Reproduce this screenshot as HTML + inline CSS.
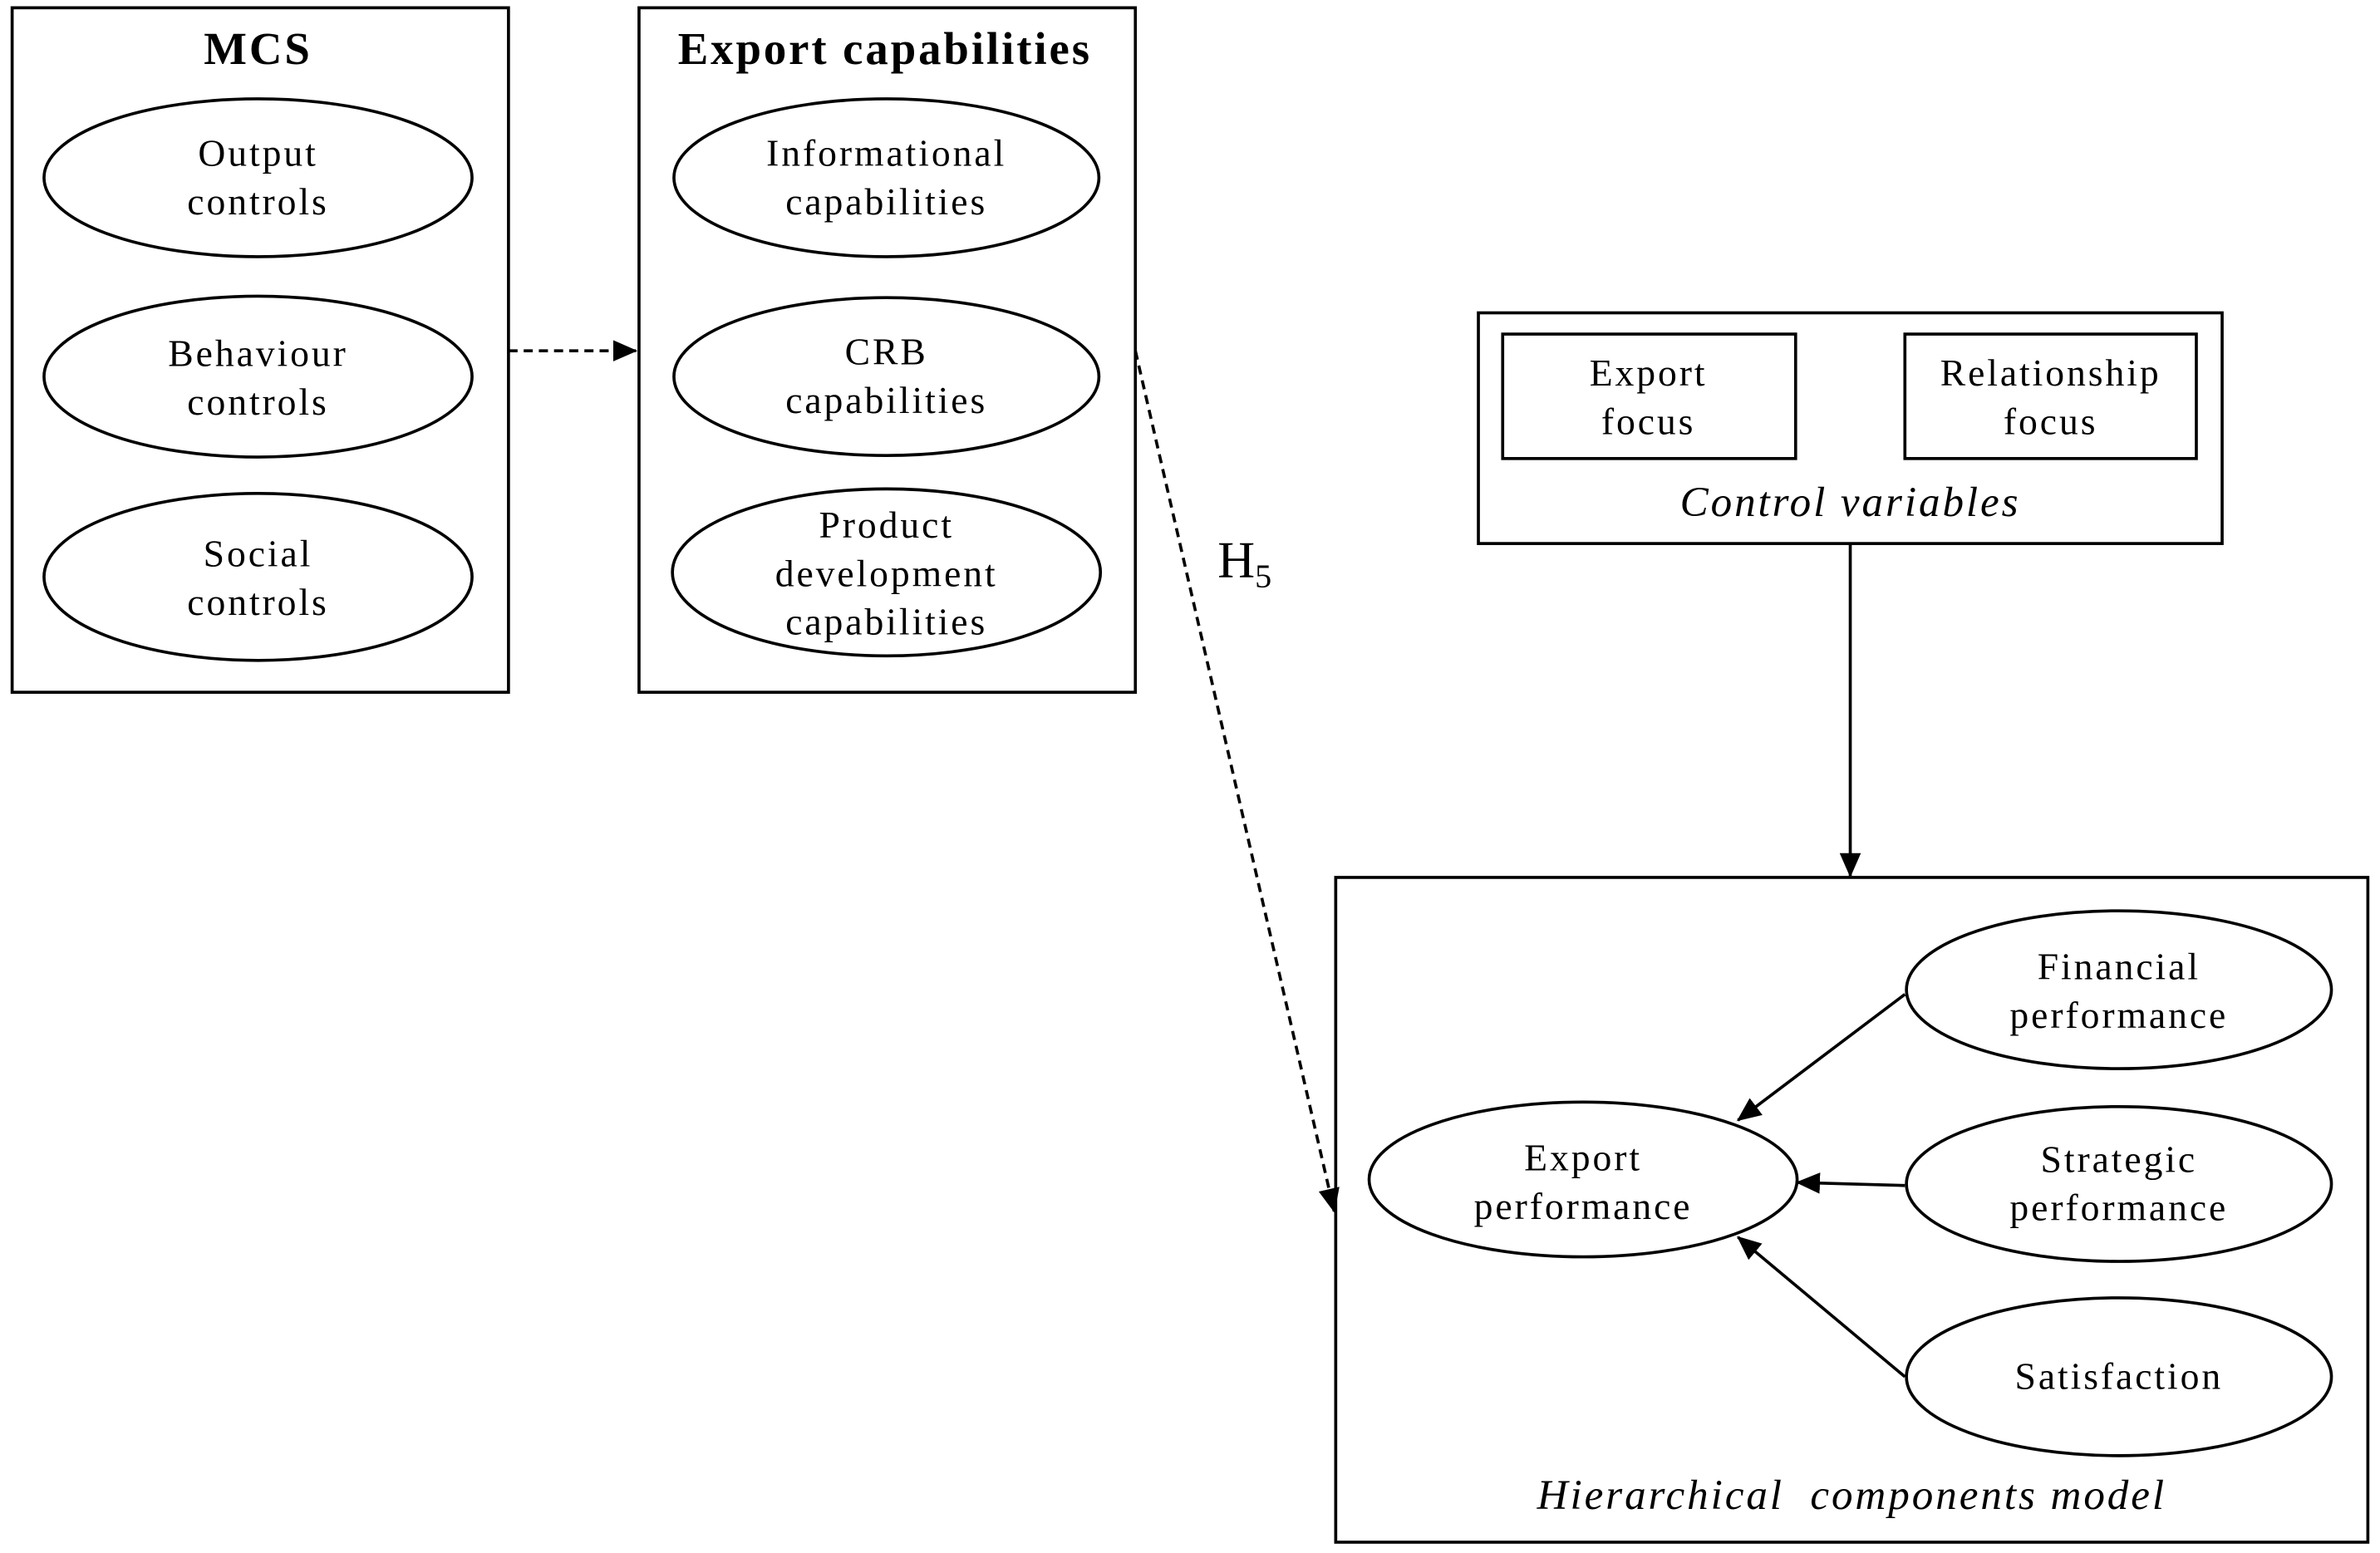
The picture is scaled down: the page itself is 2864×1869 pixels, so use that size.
<!DOCTYPE html>
<html><head><meta charset="utf-8"><style>html,body{margin:0;padding:0;background:#fff}svg{display:block}text{font-family:"Liberation Serif",serif;fill:#000}</style></head>
<body>
<svg width="2864" height="1869" viewBox="0 0 1568 1023" xmlns="http://www.w3.org/2000/svg">
<defs><marker id="b" markerWidth="16" markerHeight="14" refX="15" refY="7" orient="auto" markerUnits="userSpaceOnUse"><path d="M0,0 L16,7 L0,14 Z" fill="#000"/></marker></defs>
<g fill="none" stroke="#000" stroke-width="2">
<rect x="8" y="5" width="327" height="451"/>
<rect x="421" y="5" width="327" height="451"/>
<ellipse cx="170" cy="117" rx="141" ry="52"/>
<ellipse cx="170" cy="248" rx="141" ry="53"/>
<ellipse cx="170" cy="380" rx="141" ry="55"/>
<ellipse cx="584" cy="117" rx="140" ry="52"/>
<ellipse cx="584" cy="248" rx="140" ry="52"/>
<ellipse cx="584" cy="377" rx="141" ry="55"/>
<line x1="335" y1="231" x2="419" y2="231" stroke-dasharray="6,4" marker-end="url(#b)"/>
<line x1="748" y1="231" x2="879" y2="798" stroke-dasharray="6,4" marker-end="url(#b)"/>
<rect x="974" y="206" width="490" height="152"/>
<rect x="990" y="220" width="193" height="82"/>
<rect x="1255" y="220" width="192" height="82"/>
<line x1="1219" y1="358" x2="1219" y2="577" marker-end="url(#b)"/>
<rect x="880" y="578" width="680" height="438"/>
<ellipse cx="1043" cy="777" rx="141" ry="51"/>
<ellipse cx="1396" cy="652" rx="140" ry="52"/>
<ellipse cx="1396" cy="780" rx="140" ry="51"/>
<ellipse cx="1396" cy="907" rx="140" ry="52"/>
<line x1="1255" y1="655" x2="1145" y2="738" marker-end="url(#b)"/>
<line x1="1255" y1="781" x2="1184" y2="779" marker-end="url(#b)"/>
<line x1="1255" y1="907" x2="1145" y2="815" marker-end="url(#b)"/>
</g>
<g font-size="25" text-anchor="middle" letter-spacing="1.6">
<text x="170" y="42" font-size="30" font-weight="bold">MCS</text>
<text x="583" y="42" font-size="30" font-weight="bold">Export capabilities</text>
<text x="170" y="109">Output</text><text x="170" y="141">controls</text>
<text x="170" y="241">Behaviour</text><text x="170" y="273">controls</text>
<text x="170" y="373">Social</text><text x="170" y="405">controls</text>
<text x="584" y="109">Informational</text><text x="584" y="141">capabilities</text>
<text x="584" y="240">CRB</text><text x="584" y="272">capabilities</text>
<text x="584" y="354">Product</text><text x="584" y="386">development</text><text x="584" y="418">capabilities</text>
<text x="820" y="380" font-size="34" letter-spacing="0">H<tspan font-size="22" dy="7">5</tspan></text>
<text x="1086" y="254">Export</text><text x="1086" y="286">focus</text>
<text x="1351" y="254">Relationship</text><text x="1351" y="286">focus</text>
<text x="1219" y="340" font-size="28" font-style="italic">Control variables</text>
<text x="1043" y="771">Export</text><text x="1043" y="803">performance</text>
<text x="1396" y="645">Financial</text><text x="1396" y="677">performance</text>
<text x="1396" y="772">Strategic</text><text x="1396" y="804">performance</text>
<text x="1396" y="915">Satisfaction</text>
<text x="1220" y="994" font-size="28" font-style="italic" xml:space="preserve">Hierarchical  components model</text>
</g>
</svg>
</body></html>
